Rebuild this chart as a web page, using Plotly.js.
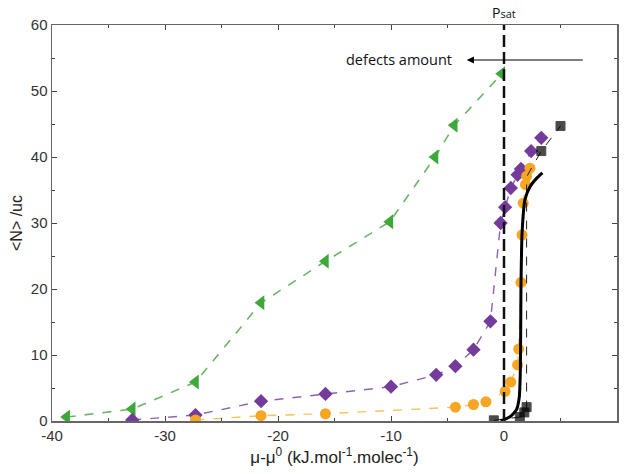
<!DOCTYPE html>
<html><head><meta charset="utf-8">
<script src="https://cdn.plot.ly/plotly-3.0.1.min.js"></script>
<style>html,body{margin:0;padding:0;background:#fff}#chart{width:625px;height:474px}</style>
</head><body><div id="chart"></div>
<script>
// Green triangles
const greenX = [-38.7, -32.9, -27.3, -21.5, -15.8, -10.1, -6.1, -4.4, -0.2];
const greenY = [0.6, 1.8, 5.9, 17.9, 24.2, 30.2, 40.0, 44.8, 52.6];
// Purple diamonds
const purpleX = [-32.9, -27.3, -21.5, -15.8, -10.0, -6.0, -4.3, -2.7, -1.2, -0.3, 0.1, 0.6, 1.2, 1.5, 2.4, 3.3];
const purpleY = [0.15, 0.9, 3.0, 4.1, 5.2, 7.0, 8.3, 10.8, 15.1, 30.0, 32.4, 35.3, 37.3, 38.2, 40.9, 42.9];
// Orange circles
const orangeX = [-27.3, -21.5, -15.8, -4.3, -2.7, -1.6, 0.1, 0.6, 1.2, 1.3, 1.5, 1.6, 1.7, 1.9, 2.0, 2.3];
const orangeY = [0.15, 0.8, 1.1, 2.1, 2.5, 2.9, 4.5, 5.9, 8.5, 10.9, 21.0, 28.2, 33.0, 35.8, 37.1, 38.3];
// Black squares (dotted link)
const squareX = [-0.9, 1.4, 1.8, 2.0, 2.0, 3.3, 5.0];
const squareY = [0.1, 0.6, 1.3, 2.1, 37.0, 40.9, 44.7];
const squareShown = [1, 1, 1, 1, 0, 1, 1];
// Black solid curve
const curveX = [-0.3, 0.5, 1.1, 1.35, 1.45, 1.5, 1.6, 1.85, 2.3, 2.9, 3.4];
const curveY = [0.0, 0.6, 1.7, 3.6, 8.0, 20.0, 28.5, 33.5, 35.5, 36.8, 37.6];
// Axis ticks
const xTicks = [-40, -30, -20, -10, 0, 10];
const yTicks = [0, 10, 20, 30, 40, 50, 60];
const psatX = 0;

const traces = [
  {x: greenX, y: greenY, mode: 'lines+markers', type: 'scatter',
   line: {color: '#6cb467', dash: 'dash', width: 1.6},
   marker: {symbol: 'triangle-left', size: 13, color: '#3fa83a'}},
  {x: purpleX, y: purpleY, mode: 'lines+markers', type: 'scatter',
   line: {color: '#8e63ad', dash: 'dash', width: 1.4},
   marker: {symbol: 'diamond', size: 11, color: '#753b9a'}},
  {x: orangeX, y: orangeY, mode: 'lines+markers', type: 'scatter',
   line: {color: '#f6c35a', dash: 'dash', width: 1.4},
   marker: {symbol: 'circle', size: 11, color: '#f6a623'}},
  {x: squareX, y: squareY, mode: 'lines+markers', type: 'scatter',
   line: {color: '#222', dash: 'dash', width: 1},
   marker: {symbol: 'square', size: squareShown.map(s => s ? 9 : 0), color: '#000',
            line: {color: '#000', width: 1}}},
  {x: curveX, y: curveY, mode: 'lines', type: 'scatter',
   line: {color: '#000', width: 3, shape: 'spline', smoothing: 0.6}}
];

const axisCommon = {
  showgrid: false, zeroline: false, showline: true, mirror: 'ticks',
  linecolor: '#666', linewidth: 1.5, ticks: 'inside', ticklen: 5, tickcolor: '#444',
  tickfont: {family: 'Liberation Sans, Arial, sans-serif', size: 15, color: '#333'}
};

const layout = {
  width: 625, height: 474,
  margin: {l: 52, r: 8, t: 25, b: 53},
  paper_bgcolor: '#fff', plot_bgcolor: '#fff',
  showlegend: false,
  xaxis: Object.assign({}, axisCommon, {
    range: [-40, 10], tickvals: xTicks, ticktext: xTicks.map(String),
    minor: {ticks: 'inside', dtick: 5, ticklen: 3, tickcolor: '#444'},
    title: {text: 'μ-μ<sup>0</sup> (kJ.mol<sup>-1</sup>.molec<sup>-1</sup>)',
            font: {family: 'Liberation Sans, Arial, sans-serif', size: 17, color: '#222'}, standoff: 8}
  }),
  yaxis: Object.assign({}, axisCommon, {
    range: [0, 60], tickvals: yTicks, ticktext: yTicks.map(String),
    minor: {ticks: 'inside', dtick: 5, ticklen: 3, tickcolor: '#444'},
    title: {text: '&lt;N&gt; /uc',
            font: {family: 'Liberation Sans, Arial, sans-serif', size: 16, color: '#222'}, standoff: 4}
  }),
  shapes: [
    {type: 'line', xref: 'x', yref: 'paper', x0: psatX, x1: psatX, y0: 0, y1: 1.0,
     line: {color: '#111', width: 2.5, dash: '12px,5px'}}
  ],
  annotations: [
    {xref: 'x', yref: 'paper', x: psatX, y: 1.0, yanchor: 'bottom', showarrow: false,
     text: 'P<span style="font-size:11px">sat</span>',
     font: {family: 'Open Sans, Liberation Sans, sans-serif', size: 14, color: '#111'}, yshift: 1},
    {xref: 'x', yref: 'y', x: -3.3, y: 54.7, ax: 7.1, ay: 54.7, axref: 'x', ayref: 'y',
     showarrow: true, arrowhead: 2, arrowsize: 1.2, arrowwidth: 1.2, arrowcolor: '#000', text: ''},
    {xref: 'x', yref: 'y', x: -4.4, y: 54.7, xanchor: 'right', showarrow: false,
     text: 'defects amount',
     font: {family: 'Open Sans, Liberation Sans, sans-serif', size: 14.5, color: '#111'}}
  ]
};

Plotly.newPlot('chart', traces, layout, {displayModeBar: false, staticPlot: true});
</script></body></html>
